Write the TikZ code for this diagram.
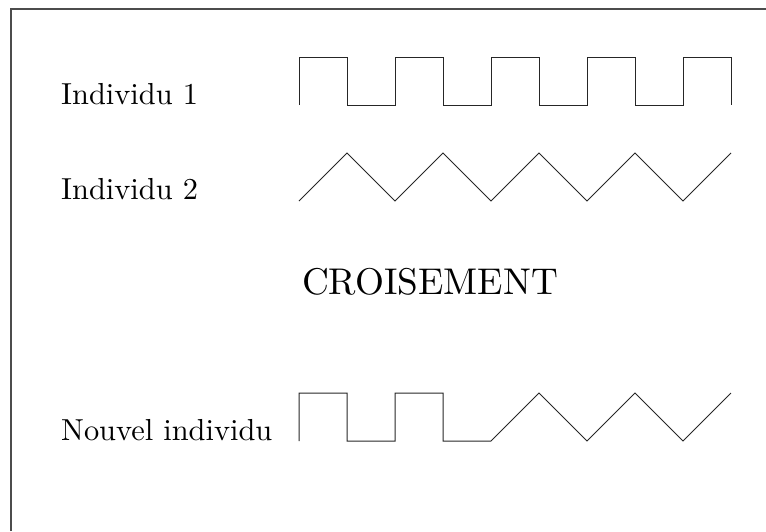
\documentclass[tikz,border=0pt]{standalone}
\begin{document}
\begin{tikzpicture}[x=1pt,y=-1pt,
  label/.style={anchor=base west,inner sep=0pt,font=\fontsize{10}{12}\selectfont},
  title/.style={anchor=base,inner sep=0pt,font=\fontsize{10}{12}\selectfont},
  wave/.style={line width=1pt,black!85},
  frame/.style={line width=1.4pt,black!70}]
\useasboundingbox (0,0) rectangle (766,531);
% outer frame (only top and left edges fall inside the page)
\draw[frame] (11,531) -- (11,9) -- (766,9);

% labels (10pt design size, enlarged)
\node[label] (ind1) at (61,104) {\scalebox{3.04}{Individu 1}};
\node[label] (ind2) at (61,199) {\scalebox{3.04}{Individu 2}};
\node[title] (crois) at (430,294) {\scalebox{3.72}{CROISEMENT}};
\node[label] (nouv) at (61,440) {\scalebox{3.04}{Nouvel individu}};

% individual 1: square wave
\draw[wave] (299,105)
  \foreach \k in {0,...,4} {
    -- ++(0,-48) -- ++(48,0) -- ++(0,48) \ifnum\k<4 -- ++(48,0)\fi
  };

% individual 2: triangle wave
\draw[wave] (299,201)
  \foreach \k in {0,...,4} {
    -- ++(48,-48) \ifnum\k<4 -- ++(48,48)\fi
  };

% offspring: two square pulses followed by the triangle part
\draw[wave] (299,441)
  -- ++(0,-48) -- ++(48,0) -- ++(0,48) -- ++(48,0)
  -- ++(0,-48) -- ++(48,0) -- ++(0,48) -- ++(48,0)
  -- ++(48,-48) -- ++(48,48) -- ++(48,-48) -- ++(48,48) -- ++(48,-48);
\end{tikzpicture}
\end{document}
